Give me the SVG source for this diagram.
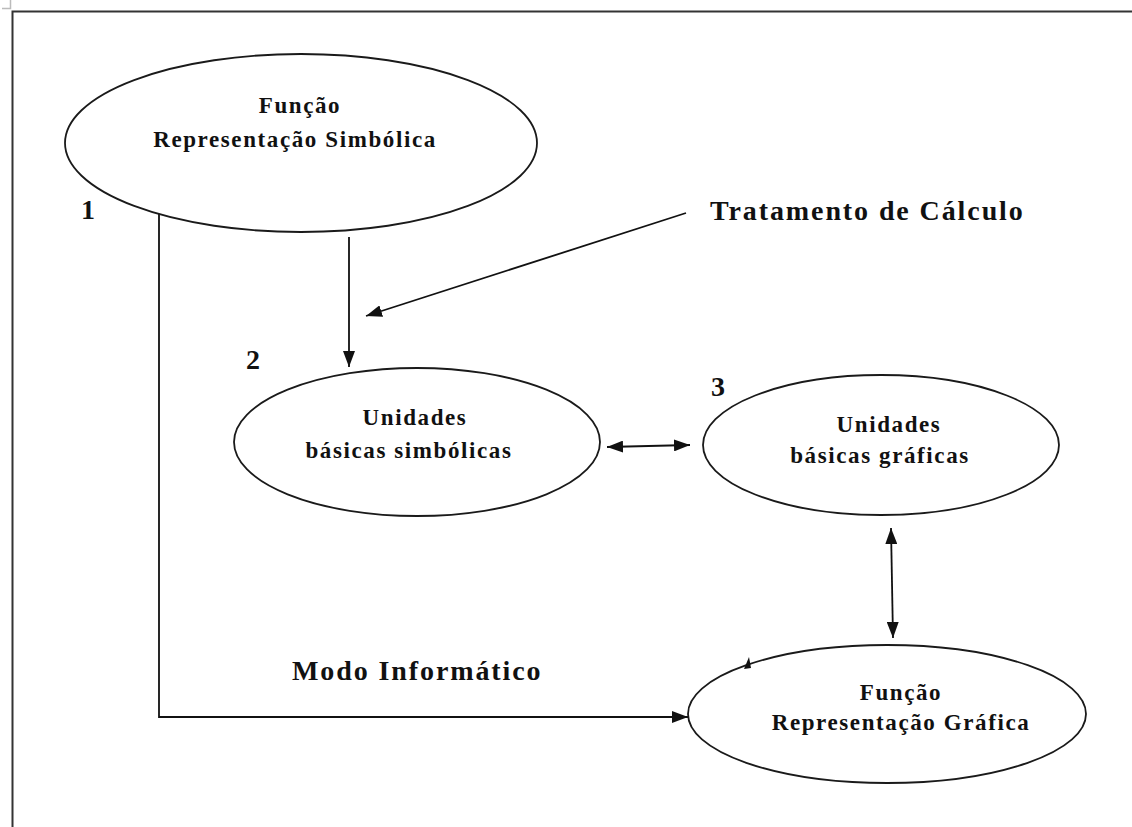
<svg xmlns="http://www.w3.org/2000/svg" width="1132" height="827" viewBox="0 0 1132 827">
<style>
.node ellipse{fill:#fff;stroke:#1a1a1a;stroke-width:1.8}
.t{font-family:"Liberation Serif","Times New Roman",serif;font-weight:bold;fill:#111;text-anchor:middle;font-size:23px;letter-spacing:1.6px}
.lbl{font-family:"Liberation Serif","Times New Roman",serif;font-weight:bold;fill:#111;font-size:28px;letter-spacing:1.9px}
.num{font-family:"Liberation Serif","Times New Roman",serif;font-weight:bold;fill:#111;font-size:28px}
.c{fill:none;stroke:#111;stroke-width:1.8}
</style>
<defs>
<marker id="ah" viewBox="0 0 16 12" refX="16" refY="6" markerWidth="16" markerHeight="12" markerUnits="userSpaceOnUse" orient="auto-start-reverse">
<path d="M0,0 L16,6 L0,12 z" fill="#111"/>
</marker>
</defs>
<rect width="1132" height="827" fill="#fff"/>
<g id="frame">
<path d="M2,8.5 H10.5 V0" fill="none" stroke="#bbb" stroke-width="1.5"/>
<path d="M12.5,827 V11.5 H1132" fill="none" stroke="#333" stroke-width="2"/>
</g>
<g id="connectors">
<path class="c" d="M159,213 V717 H688" marker-end="url(#ah)"/>
<path class="c" d="M349,237 V367" marker-end="url(#ah)"/>
<path class="c" d="M686,213 L366,316" marker-end="url(#ah)"/>
<path class="c" d="M607,447 L690,445" marker-start="url(#ah)" marker-end="url(#ah)"/>
<path class="c" d="M891,528 L893,638" marker-start="url(#ah)" marker-end="url(#ah)"/>
</g>
<g id="n1" class="node">
<ellipse cx="301" cy="143" rx="236" ry="89"/>
<text class="t" x="300" y="113">Função</text>
<text class="t" x="295" y="147">Representação Simbólica</text>
</g>
<g id="n2" class="node">
<ellipse cx="417" cy="442" rx="183" ry="74"/>
<text class="t" x="415" y="425">Unidades</text>
<text class="t" x="409" y="458">básicas simbólicas</text>
</g>
<g id="n3" class="node">
<ellipse cx="881" cy="445" rx="178" ry="70"/>
<text class="t" x="889" y="432">Unidades</text>
<text class="t" x="880" y="463">básicas gráficas</text>
</g>
<g id="n4" class="node">
<ellipse cx="887" cy="714" rx="199" ry="69"/>
<text class="t" x="901" y="700">Função</text>
<text class="t" x="901" y="730">Representação Gráfica</text>
<path d="M744,669 L749,657 L751,668 z" fill="#111"/>
</g>
<g id="labels">
<text class="num" x="81" y="219">1</text>
<text class="num" x="246" y="369">2</text>
<text class="num" x="711" y="396">3</text>
<text class="lbl" x="710" y="220">Tratamento de Cálculo</text>
<text class="lbl" x="292" y="680">Modo Informático</text>
</g>
</svg>
